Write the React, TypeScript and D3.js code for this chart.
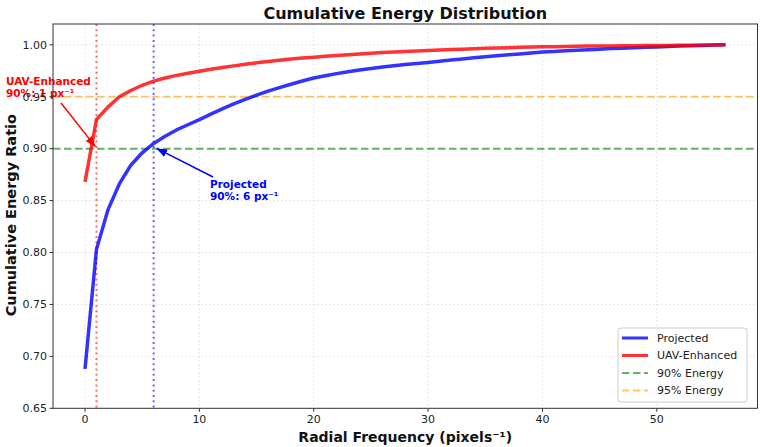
import * as d3 from "d3";

const freqs = d3.range(0, 57);

const projected = [
  0.688, 0.803, 0.841, 0.866, 0.884, 0.896, 0.905, 0.912, 0.918, 0.923,
  0.928, 0.9333, 0.9383, 0.943, 0.9474, 0.9515, 0.9553, 0.9588, 0.962, 0.9651,
  0.968, 0.9702, 0.9722, 0.974, 0.9757, 0.9772, 0.9786, 0.9799, 0.981, 0.982,
  0.983, 0.9842, 0.9853, 0.9864, 0.9874, 0.9884, 0.9894, 0.9903, 0.9912, 0.9921,
  0.993, 0.9936, 0.9942, 0.9948, 0.9953, 0.9958, 0.9963, 0.9967, 0.9971, 0.9975,
  0.9979, 0.9983, 0.9987, 0.999, 0.9994, 0.9997, 1.0,
];

const uavEnhanced = [
  0.868, 0.928, 0.940, 0.950, 0.956, 0.961, 0.965, 0.968, 0.9705, 0.9726,
  0.9745, 0.9764, 0.9781, 0.9797, 0.9812, 0.9826, 0.9839, 0.9851, 0.9862, 0.9872,
  0.988, 0.9889, 0.9897, 0.9905, 0.9912, 0.9919, 0.9925, 0.9931, 0.9936, 0.9941,
  0.9945, 0.995, 0.9954, 0.9958, 0.9962, 0.9966, 0.9969, 0.9972, 0.9975, 0.9978,
  0.998, 0.9982, 0.9984, 0.9986, 0.9987, 0.9988, 0.9989, 0.999, 0.9991, 0.9992,
  0.9993, 0.9994, 0.9995, 0.9996, 0.9997, 0.9998, 1.0,
];

const xTicks = [0, 10, 20, 30, 40, 50];
const yTicks = [0.65, 0.7, 0.75, 0.8, 0.85, 0.9, 0.95, 1.0];
const thresholds = [
  { label: "90% Energy", value: 0.9, color: "rgba(0,128,0,0.6)" },
  { label: "95% Energy", value: 0.95, color: "rgba(255,165,0,0.6)" },
];
const cutoffs = [
  { name: "UAV-Enhanced", freq: 1, color: "rgba(255,0,0,0.6)" },
  { name: "Projected", freq: 6, color: "rgba(0,0,255,0.6)" },
];

const W = 760, H = 447;
const m = { left: 53, right: 2.5, top: 24, bottom: 38.7 };
const FONT = "DejaVu Sans, sans-serif";

const App = () => {
  const x = d3.scaleLinear().domain([-2.8, 58.8]).range([m.left, W - m.right]);
  const y = d3.scaleLinear().domain([0.65, 1.02]).range([H - m.bottom, m.top]);

  const line = (vals: number[]) =>
    d3.line<number>().x((_, i) => x(freqs[i])).y(d => y(d))(vals)!;

  const projAt = (f: number) => projected[freqs.indexOf(f)];

  const legendItems = [
    { label: "Projected", color: "rgba(0,0,255,0.8)", dash: "", w: 3 },
    { label: "UAV-Enhanced", color: "rgba(255,0,0,0.8)", dash: "", w: 3 },
    ...thresholds.map(t => ({ label: t.label, color: t.color, dash: "7.5,3.5", w: 2 })),
  ];

  return (
    <svg width={W} height={H} style={{ position: "absolute", left: 0, top: 0, fontFamily: FONT }}>
      <defs>
        <marker id="arrRed" viewBox="0 0 10 10" refX="10" refY="5" markerWidth="7" markerHeight="7" orient="auto">
          <path d="M0,1 L10,5 L0,9 z" fill="red" />
        </marker>
        <marker id="arrBlue" viewBox="0 0 10 10" refX="10" refY="5" markerWidth="7" markerHeight="7" orient="auto">
          <path d="M0,1 L10,5 L0,9 z" fill="blue" />
        </marker>
        <clipPath id="plot">
          <rect x={m.left} y={m.top} width={W - m.left - m.right} height={H - m.top - m.bottom} />
        </clipPath>
      </defs>
      <rect width={W} height={H} fill="white" />

      {/* grid */}
      {xTicks.map(t => (
        <line key={"gx" + t} x1={x(t)} x2={x(t)} y1={m.top} y2={H - m.bottom}
          stroke="#b0b0b0" strokeOpacity={0.5} strokeDasharray="1.5,2.5" strokeWidth={0.8} />
      ))}
      {yTicks.map(t => (
        <line key={"gy" + t} x1={m.left} x2={W - m.right} y1={y(t)} y2={y(t)}
          stroke="#b0b0b0" strokeOpacity={0.5} strokeDasharray="1.5,2.5" strokeWidth={0.8} />
      ))}

      <g clipPath="url(#plot)">
        {thresholds.map(t => (
          <line key={t.label} x1={m.left} x2={W - m.right} y1={y(t.value)} y2={y(t.value)}
            stroke={t.color} strokeWidth={2} strokeDasharray="7.5,3.5" />
        ))}
        {cutoffs.map(c => (
          <line key={c.name} x1={x(c.freq)} x2={x(c.freq)} y1={m.top} y2={H - m.bottom}
            stroke={c.color} strokeWidth={2} strokeDasharray="2,3.3" />
        ))}
        <path d={line(projected)} fill="none" stroke="rgba(0,0,255,0.8)" strokeWidth={3.5} strokeLinejoin="round" />
        <path d={line(uavEnhanced)} fill="none" stroke="rgba(255,0,0,0.8)" strokeWidth={3.5} strokeLinejoin="round" />
      </g>

      {/* annotations */}
      <line x1={61} y1={103} x2={x(1) - 1} y2={y(0.9) - 2} stroke="red" strokeWidth={1.5} markerEnd="url(#arrRed)" />
      <text x={6} y={85} fill="red" fontSize={10.5} fontWeight="bold">UAV-Enhanced</text>
      <text x={6} y={97} fill="red" fontSize={10.5} fontWeight="bold">90%: {cutoffs[0].freq} px⁻¹</text>

      <line x1={213} y1={177} x2={x(6) + 3} y2={y(projAt(6)) + 5} stroke="blue" strokeWidth={1.5} markerEnd="url(#arrBlue)" />
      <text x={210} y={188} fill="blue" fontSize={10.5} fontWeight="bold">Projected</text>
      <text x={210} y={200} fill="blue" fontSize={10.5} fontWeight="bold">90%: {cutoffs[1].freq} px⁻¹</text>

      {/* spines */}
      <rect x={m.left} y={m.top} width={W - m.left - m.right} height={H - m.top - m.bottom}
        fill="none" stroke="#333" strokeWidth={1} />

      {/* ticks */}
      {xTicks.map(t => (
        <g key={"xt" + t}>
          <line x1={x(t)} x2={x(t)} y1={H - m.bottom} y2={H - m.bottom + 3.5} stroke="#333" />
          <text x={x(t)} y={H - m.bottom + 15} textAnchor="middle" fontSize={11} fill="#222">{t}</text>
        </g>
      ))}
      {yTicks.map(t => (
        <g key={"yt" + t}>
          <line x1={m.left - 3.5} x2={m.left} y1={y(t)} y2={y(t)} stroke="#333" />
          <text x={m.left - 6} y={y(t)} dy="0.35em" textAnchor="end" fontSize={11} fill="#222">{t.toFixed(2)}</text>
        </g>
      ))}

      {/* labels */}
      <text x={(m.left + W - m.right) / 2} y={18.5} textAnchor="middle" fontSize={16} fontWeight="bold" fill="#111">
        Cumulative Energy Distribution
      </text>
      <text x={(m.left + W - m.right) / 2} y={442} textAnchor="middle" fontSize={14} fontWeight="bold" fill="#111">
        Radial Frequency (pixels⁻¹)
      </text>
      <text transform={`translate(16,${(m.top + H - m.bottom) / 2 - 1}) rotate(-90)`} textAnchor="middle" fontSize={14.5}
        fontWeight="bold" fill="#111">
        Cumulative Energy Ratio
      </text>

      {/* legend */}
      <g>
        <rect x={618} y={328} width={129} height={74} rx={3} fill="white" fillOpacity={0.8} stroke="#ccc" />
        {legendItems.map((d, i) => (
          <g key={d.label} transform={`translate(0,${338 + i * 17.5})`}>
            <line x1={622} x2={648} stroke={d.color} strokeWidth={d.w} strokeDasharray={d.dash} />
            <text x={657} dy="0.35em" fontSize={11} fill="#222">{d.label}</text>
          </g>
        ))}
      </g>
    </svg>
  );
};

export default App;
